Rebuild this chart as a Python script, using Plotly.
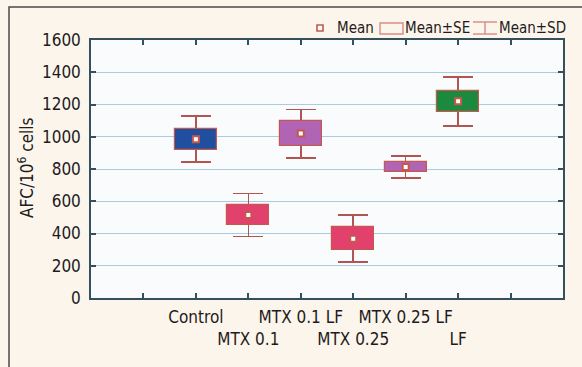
import plotly.graph_objects as go

# Group summary statistics (AFC per 10^6 cells)
groups = ["Control", "MTX 0.1", "MTX 0.1 LF", "MTX 0.25", "MTX 0.25 LF", "LF"]
means = [985, 515, 1020, 368, 813, 1220]
se = [66, 62, 75, 70, 31, 65]
sd = [142, 133, 150, 145, 67, 152]
box_colors = ["#1f4f9e", "#e2416d", "#b164b4", "#e2416d", "#b164b4", "#1c8a3e"]

# category labels alternate between two rows
tick_labels = [g if i % 2 == 0 else "<br>" + g for i, g in enumerate(groups)]
y_ticks = list(range(0, 1601, 200))

FONT = "DejaVu Sans Condensed, DejaVu Sans, sans-serif"
INK = "#1f1b1c"
AXIS = "#34505f"
EDGE = "#c4584e"
WHISKER = "#b0554f"

xs = list(range(len(groups)))
# tick marks also sit one slot outside the first and last group
tick_marks = list(range(-1, len(groups) + 1))

fig = go.Figure()

# Mean ± SD whiskers (carried by an invisible bar so the boxes cover them)
fig.add_trace(go.Bar(
    x=xs, y=means, width=0.8,
    marker=dict(color="rgba(0,0,0,0)", line=dict(width=0)),
    error_y=dict(type="data", array=sd, visible=True, color=WHISKER,
                 thickness=1.6, width=15),
    showlegend=False, hoverinfo="skip",
))

# Mean ± SE boxes
fig.add_trace(go.Bar(
    x=xs, y=[2 * s for s in se], base=[m - s for m, s in zip(means, se)],
    width=0.8,
    marker=dict(color=box_colors, line=dict(color=EDGE, width=1.2)),
    showlegend=False,
))

# Means
fig.add_trace(go.Scatter(
    x=xs, y=means, mode="markers",
    marker=dict(symbol="square", size=6, color="white",
                line=dict(color=EDGE, width=2)),
    showlegend=False,
))

fig.update_layout(
    width=582, height=367,
    margin=dict(l=91, r=19, t=40, b=69, autoexpand=False),
    paper_bgcolor="#fcf5eb",
    plot_bgcolor="#fafbfd",
    barmode="overlay",
    bargap=0,
    font=dict(family=FONT, size=17, color=INK),
    xaxis=dict(
        range=[-2, 7], tickmode="array", tickvals=xs, ticktext=tick_labels,
        tickangle=0, automargin=False,
        showgrid=False, zeroline=False,
        showline=True, linecolor=AXIS, linewidth=1.5, mirror="allticks",
        ticks="inside", ticklen=5, tickcolor=AXIS, tickwidth=1.5,
        ticklabelstandoff=3,
        minor=dict(tickmode="array", tickvals=tick_marks, ticks="inside",
                   ticklen=5, tickcolor=AXIS, tickwidth=1.5, showgrid=False),
        tickfont=dict(family=FONT, size=17, color=INK),
    ),
    yaxis=dict(
        range=[0, 1600], tickmode="array", tickvals=y_ticks, automargin=False,
        showgrid=True, gridcolor="#a8cde2", gridwidth=1, zeroline=False,
        showline=True, linecolor=AXIS, linewidth=1.5, mirror="allticks",
        ticks="inside", ticklen=5, tickcolor=AXIS, tickwidth=1.5,
        tickfont=dict(family=FONT, size=17, color=INK),
        ticklabelstandoff=5,
    ),
)

# figure frame
fig.add_shape(type="rect", xref="paper", yref="paper",
              x0=(9 - 91) / 472, x1=1.2, y0=-0.5, y1=(298 - 7) / 258,
              line=dict(color="#4a4a4a", width=1.5), layer="below")


def px(xp):
    return (xp - 91) / 472


def py(yp):
    return (298 - yp) / 258


# y-axis title
fig.add_annotation(text="AFC/10<sup>6</sup> cells", xref="paper", yref="paper",
                   x=px(26), y=py(168), textangle=-90, showarrow=False,
                   xanchor="center", yanchor="middle",
                   font=dict(family=FONT, size=17, color=INK))

# legend: Mean marker
fig.add_shape(type="rect", xref="paper", yref="paper",
              x0=px(317), x1=px(323), y0=py(31), y1=py(25),
              line=dict(color=EDGE, width=1.6), fillcolor="white")
# legend: Mean ± SE box
fig.add_shape(type="rect", xref="paper", yref="paper",
              x0=px(380), x1=px(403), y0=py(34), y1=py(23),
              line=dict(color="#d98a86", width=1.4), fillcolor="rgba(0,0,0,0)")
# legend: Mean ± SD whisker
for seg in [(473, 22, 497, 22), (485, 22, 485, 34), (473, 34, 497, 34)]:
    fig.add_shape(type="line", xref="paper", yref="paper",
                  x0=px(seg[0]), y0=py(seg[1]), x1=px(seg[2]), y1=py(seg[3]),
                  line=dict(color="#d98a86", width=1.4))

for text, x0 in [("Mean", 335), ("Mean±SE", 403), ("Mean±SD", 497)]:
    fig.add_annotation(text=text, xref="paper", yref="paper",
                       x=px(x0), y=py(28), xanchor="left", yanchor="middle",
                       showarrow=False, font=dict(family=FONT, size=15, color=INK))

fig.write_html("out.html")
